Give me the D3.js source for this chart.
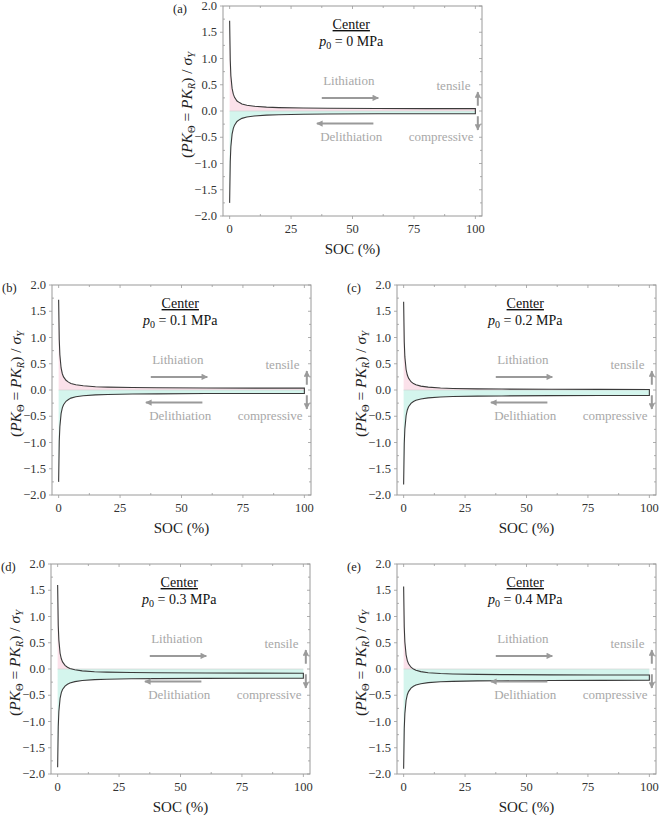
<!DOCTYPE html>
<html><head><meta charset="utf-8">
<script src="https://cdn.jsdelivr.net/npm/d3@7"></script>
<style>body{margin:0;background:#fff}svg{display:block}</style>
</head><body><svg id="c" width="661" height="816"></svg>
<script>
// SOC sample points (%)
const soc = [0,0.25,0.5,1,1.5,2,3,4,5,7,10,15,20,30,40,60,80,100];
// Panel labels and confining pressures
const panelLabels = ["(a)","(b)","(c)","(d)","(e)"];
const pressures = ["0","0.1","0.2","0.3","0.4"];
// Lithiation (upper) curves, normalized stress
const liA = [1.72,0.97,0.67,0.43,0.32,0.26,0.19,0.16,0.135,0.11,0.09,0.073,0.065,0.057,0.053,0.048,0.046,0.045];
const liB = [1.72,0.96,0.67,0.42,0.31,0.25,0.185,0.15,0.125,0.10,0.08,0.063,0.055,0.047,0.043,0.038,0.036,0.035];
const liC = [1.68,0.92,0.63,0.39,0.285,0.225,0.158,0.122,0.10,0.074,0.054,0.038,0.03,0.022,0.018,0.013,0.011,0.01];
const liD = [1.60,0.83,0.55,0.30,0.195,0.135,0.07,0.033,0.01,-0.015,-0.035,-0.052,-0.06,-0.068,-0.072,-0.077,-0.079,-0.08];
const liE = [1.57,0.80,0.515,0.27,0.16,0.10,0.034,-0.002,-0.025,-0.05,-0.07,-0.087,-0.095,-0.103,-0.107,-0.112,-0.114,-0.115];
// Delithiation (lower) curves
const deA = [-1.75,-0.97,-0.68,-0.44,-0.33,-0.27,-0.20,-0.165,-0.14,-0.115,-0.095,-0.078,-0.07,-0.062,-0.058,-0.053,-0.051,-0.05];
const deB = [-1.75,-0.98,-0.70,-0.45,-0.34,-0.28,-0.215,-0.18,-0.155,-0.13,-0.11,-0.093,-0.085,-0.077,-0.073,-0.068,-0.066,-0.065];
const deC = [-1.80,-1.03,-0.74,-0.49,-0.38,-0.32,-0.255,-0.22,-0.195,-0.17,-0.15,-0.133,-0.125,-0.117,-0.113,-0.108,-0.106,-0.105];
const deD = [-1.87,-1.10,-0.81,-0.56,-0.45,-0.39,-0.325,-0.29,-0.265,-0.24,-0.22,-0.203,-0.195,-0.187,-0.183,-0.178,-0.176,-0.175];
const deE = [-1.90,-1.14,-0.85,-0.60,-0.49,-0.43,-0.365,-0.33,-0.305,-0.28,-0.26,-0.243,-0.235,-0.227,-0.223,-0.218,-0.216,-0.215];
const lithSeries = [liA,liB,liC,liD,liE];
const delithSeries = [deA,deB,deC,deD,deE];
const xTicks = [0,25,50,75,100];
const yTicks = [-2.0,-1.5,-1.0,-0.5,0.0,0.5,1.0,1.5,2.0];

const W = 259, H = 210;
const origins = [[223,6],[52,285],[397,285],[51,564],[397,564]];
const svg = d3.select("#c");
const defs = svg.append("defs");
defs.append("marker").attr("id","ah").attr("viewBox","0 0 10 10").attr("refX",9).attr("refY",5)
  .attr("markerWidth",4).attr("markerHeight",3.2).attr("orient","auto")
  .append("path").attr("d","M0,0L10,5L0,10Z").attr("fill","#9a9a9a");

const x = d3.scaleLinear().domain([-2.7,102.7]).range([0,W]);
const y = d3.scaleLinear().domain([-2,2]).range([H,0]);

for (let p=0;p<5;p++){
  const [ox,oy] = origins[p];
  const g = svg.append("g").attr("transform",`translate(${ox},${oy})`);
  const up = soc.map((s,i)=>({s,v:lithSeries[p][i]}));
  const dn = soc.map((s,i)=>({s,v:delithSeries[p][i]}));
  g.append("path").datum(dn).attr("fill","#d4f5ed")
    .attr("d",d3.area().x(d=>x(d.s)).y0(y(0)).y1(d=>y(Math.min(0,d.v))));
  g.append("path").datum(up).attr("fill","#fbe1ea")
    .attr("d",d3.area().x(d=>x(d.s)).y0(y(0)).y1(d=>y(Math.max(0,d.v))));
  g.append("line").attr("x1",x(0)).attr("x2",x(100)).attr("y1",y(0)).attr("y2",y(0))
    .attr("stroke","#cfcfcf").attr("stroke-width",0.6);
  const loop = up.concat(dn.slice().reverse());
  g.append("path").datum(loop).attr("fill","none").attr("stroke","#3a3a3a").attr("stroke-width",1.1)
    .attr("d",d3.line().x(d=>x(d.s)).y(d=>y(d.v)));
  g.append("rect").attr("width",W).attr("height",H).attr("fill","none").attr("stroke","#9a9a9a").attr("stroke-width",1);
  const tk = g.append("g").attr("stroke","#9a9a9a").attr("stroke-width",0.8);
  xTicks.forEach(t=>{
    tk.append("line").attr("x1",x(t)).attr("x2",x(t)).attr("y1",H).attr("y2",H+3);
    tk.append("line").attr("x1",x(t)).attr("x2",x(t)).attr("y1",0).attr("y2",3);
  });
  [12.5,37.5,62.5,87.5].forEach(t=>{
    tk.append("line").attr("x1",x(t)).attr("x2",x(t)).attr("y1",H).attr("y2",H-2);
    tk.append("line").attr("x1",x(t)).attr("x2",x(t)).attr("y1",0).attr("y2",2);
  });
  yTicks.forEach(t=>{
    tk.append("line").attr("x1",-3).attr("x2",0).attr("y1",y(t)).attr("y2",y(t));
    tk.append("line").attr("x1",W).attr("x2",W-3).attr("y1",y(t)).attr("y2",y(t));
    if (t<2){
      tk.append("line").attr("x1",0).attr("x2",2).attr("y1",y(t+0.25)).attr("y2",y(t+0.25));
      tk.append("line").attr("x1",W).attr("x2",W-2).attr("y1",y(t+0.25)).attr("y2",y(t+0.25));
    }
  });
  g.selectAll(".yl").data(yTicks).enter().append("text")
    .attr("x",-6).attr("y",d=>y(d)+4).attr("text-anchor","end").attr("font-size",12.5).attr("fill","#333")
    .text(d=>(d<0?"\u2212":"")+Math.abs(d).toFixed(1));
  g.selectAll(".xl").data(xTicks).enter().append("text")
    .attr("x",d=>x(d)).attr("y",H+17).attr("text-anchor","middle").attr("font-size",12.5).attr("fill","#333")
    .text(d=>d);
  g.append("text").attr("x",W/2).attr("y",H+38).attr("text-anchor","middle").attr("font-size",15).attr("fill","#222").text("SOC (%)");
  g.append("text").attr("x",-50).attr("y",7).attr("font-size",12.5).attr("fill","#222").text(panelLabels[p]);
  const yl = g.append("text").attr("transform",`translate(-31,${H/2-6}) rotate(-90)`).attr("text-anchor","middle")
    .attr("font-size",15.5).attr("fill","#222");
  yl.append("tspan").text("(");
  yl.append("tspan").attr("font-style","italic").text("PK");
  yl.append("tspan").attr("font-size",10.5).attr("dy",3).text("\u0398");
  yl.append("tspan").attr("dy",-3).text(" = ");
  yl.append("tspan").attr("font-style","italic").text("PK");
  yl.append("tspan").attr("font-size",10.5).attr("dy",3).attr("font-style","italic").text("R");
  yl.append("tspan").attr("dy",-3).text(") / ");
  yl.append("tspan").attr("font-style","italic").text("\u03C3");
  yl.append("tspan").attr("font-size",10.5).attr("dy",3).attr("font-style","italic").text("Y");
  g.append("text").attr("x",x(49.5)).attr("y",23).attr("text-anchor","middle").attr("font-size",14)
    .attr("fill","#111").attr("text-decoration","underline").text("Center");
  const pt = g.append("text").attr("x",x(49.5)).attr("y",40).attr("text-anchor","middle").attr("font-size",14).attr("fill","#111");
  pt.append("tspan").attr("font-style","italic").text("p");
  pt.append("tspan").attr("font-size",10).attr("dy",3).text("0");
  pt.append("tspan").attr("dy",-3).text(" = "+pressures[p]+" MPa");
  const gray = "#a8a8a8";
  g.append("text").attr("x",x(48.5)).attr("y",y(0.57)+4).attr("text-anchor","middle").attr("font-size",13).attr("fill",gray).text("Lithiation");
  g.append("text").attr("x",x(49.5)).attr("y",y(-0.5)+4).attr("text-anchor","middle").attr("font-size",13).attr("fill",gray).text("Delithiation");
  g.append("line").attr("x1",x(37.5)).attr("x2",x(60.5)).attr("y1",y(0.25)).attr("y2",y(0.25))
    .attr("stroke","#9a9a9a").attr("stroke-width",2).attr("marker-end","url(#ah)");
  g.append("line").attr("x1",x(58.5)).attr("x2",x(35.5)).attr("y1",y(-0.24)).attr("y2",y(-0.24))
    .attr("stroke","#9a9a9a").attr("stroke-width",2).attr("marker-end","url(#ah)");
  g.append("text").attr("x",x(98)).attr("y",y(0.48)+4).attr("text-anchor","end").attr("font-size",13).attr("fill",gray).text("tensile");
  g.append("text").attr("x",x(99.3)).attr("y",y(-0.5)+4).attr("text-anchor","end").attr("font-size",13).attr("fill",gray).text("compressive");
  g.append("line").attr("x1",x(101)).attr("x2",x(101)).attr("y1",y(0.1)).attr("y2",y(0.36))
    .attr("stroke","#9a9a9a").attr("stroke-width",2).attr("marker-end","url(#ah)");
  g.append("line").attr("x1",x(101)).attr("x2",x(101)).attr("y1",y(-0.1)).attr("y2",y(-0.36))
    .attr("stroke","#9a9a9a").attr("stroke-width",2).attr("marker-end","url(#ah)");
}
svg.selectAll("text").style("font-family","Liberation Serif");
</script></body></html>
